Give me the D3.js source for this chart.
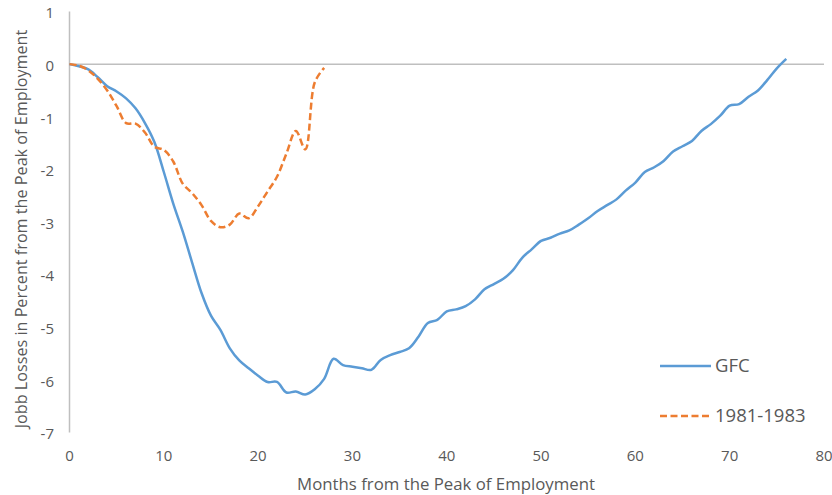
<!DOCTYPE html>
<html><head><meta charset="utf-8">
<script src="https://cdn.jsdelivr.net/npm/d3@7"></script>
<style>
html,body{margin:0;padding:0;background:#fff;}
text{font-family:"Open Sans",sans-serif;fill:#595959;}
</style></head>
<body>
<svg id="chart" width="832" height="495"></svg>
<script>
const gfcValues = [0,-0.04,-0.10,-0.25,-0.42,-0.52,-0.65,-0.84,-1.12,-1.48,-2.05,-2.65,-3.18,-3.77,-4.35,-4.78,-5.05,-5.40,-5.63,-5.78,-5.92,-6.04,-6.04,-6.24,-6.22,-6.28,-6.18,-5.98,-5.60,-5.72,-5.75,-5.78,-5.81,-5.62,-5.53,-5.47,-5.40,-5.18,-4.92,-4.86,-4.70,-4.66,-4.60,-4.47,-4.28,-4.18,-4.08,-3.92,-3.68,-3.52,-3.36,-3.30,-3.22,-3.16,-3.05,-2.93,-2.79,-2.68,-2.57,-2.40,-2.25,-2.05,-1.96,-1.84,-1.66,-1.56,-1.46,-1.27,-1.14,-0.98,-0.79,-0.76,-0.62,-0.50,-0.30,-0.08,0.10];
const r1981Values = [0,-0.03,-0.12,-0.28,-0.50,-0.80,-1.12,-1.13,-1.30,-1.57,-1.63,-1.85,-2.27,-2.45,-2.68,-2.98,-3.10,-3.05,-2.84,-2.93,-2.70,-2.42,-2.14,-1.70,-1.27,-1.62,-0.35,-0.07];
const seriesNames = ["GFC","1981-1983"];
const xTicks = [0,10,20,30,40,50,60,70,80];
const yTicks = [1,0,-1,-2,-3,-4,-5,-6,-7];
const xTitle = "Months from the Peak of Employment";
const yTitle = "Jobb Losses in Percent from the Peak of Employment";

const svg = d3.select("#chart");
const x = d3.scaleLinear().domain([0,80]).range([69.5,824]);
const y = d3.scaleLinear().domain([-7,1]).range([432.5,11.5]);

svg.append("line").attr("x1",x(0)).attr("x2",x(0)).attr("y1",y(1)).attr("y2",y(-7))
  .attr("stroke","#bfbfbf").attr("stroke-width",1.5);
svg.append("line").attr("x1",x(0)).attr("x2",x(80)).attr("y1",y(0)).attr("y2",y(0))
  .attr("stroke","#bfbfbf").attr("stroke-width",1.5);

svg.append("g").selectAll("text").data(yTicks).join("text")
  .attr("x",54).attr("y",d=>y(d)+1.5).attr("dy","0.35em")
  .attr("text-anchor","end").attr("font-size",15).text(d=>d);
svg.append("g").selectAll("text").data(xTicks).join("text")
  .attr("x",d=>x(d)).attr("y",456).attr("dy","0.35em")
  .attr("text-anchor","middle").attr("font-size",15).text(d=>d);

svg.append("text").attr("x",446).attr("y",484).attr("dy","0.35em")
  .attr("text-anchor","middle").attr("font-size",16.8).text(xTitle);
svg.append("text").attr("transform","translate(21,229) rotate(-90)").attr("dy","0.35em")
  .attr("text-anchor","middle").attr("font-size",16.2).text(yTitle);

const line = d3.line().x((d,i)=>x(i)).y(d=>y(d)).curve(d3.curveCatmullRom.alpha(0.5));

svg.append("path").datum(gfcValues).attr("d",line).attr("fill","none")
  .attr("stroke","#5b9bd5").attr("stroke-width",2.5).attr("stroke-linejoin","round");
svg.append("path").datum(r1981Values).attr("d",line).attr("fill","none")
  .attr("stroke","#ed7d31").attr("stroke-width",2.5).attr("stroke-dasharray","7,3.5");

const leg = svg.append("g");
const legY = [366,416];
const colors = ["#5b9bd5","#ed7d31"];
const dashes = [null,"7,3.5"];
seriesNames.forEach((n,i)=>{
  leg.append("line").attr("x1",660).attr("x2",711).attr("y1",legY[i]).attr("y2",legY[i])
    .attr("stroke",colors[i]).attr("stroke-width",2.5).attr("stroke-dasharray",dashes[i]);
  leg.append("text").attr("x",715).attr("y",legY[i]).attr("dy","0.35em")
    .attr("font-size",18.5).text(n);
});
</script>
</body></html>
